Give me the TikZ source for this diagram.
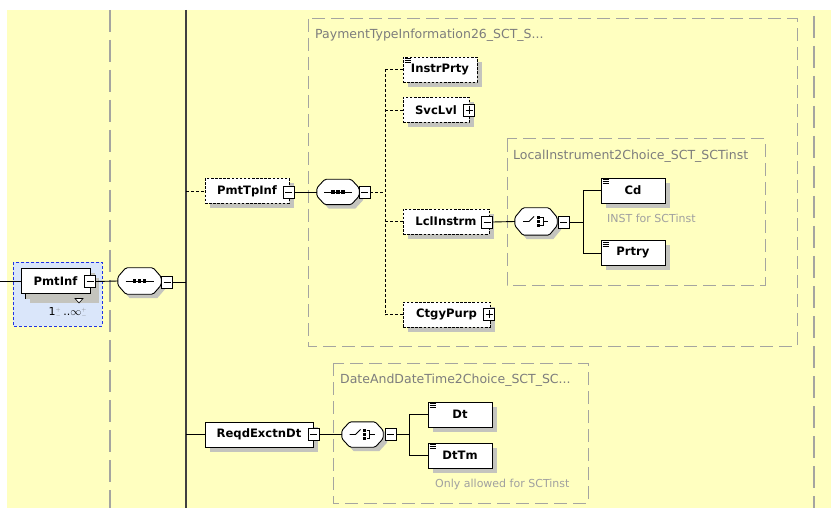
\documentclass[tikz,border=0pt]{standalone}
\usepackage{fontspec}
\setmainfont{DejaVu Sans}
\usetikzlibrary{shadows}

\definecolor{bgyellow}{RGB}{255,255,192}
\definecolor{shadowgray}{RGB}{196,196,190}
\definecolor{boxgray}{RGB}{165,165,160}
\definecolor{titlegray}{RGB}{125,125,125}
\definecolor{notegray}{RGB}{160,160,160}
\definecolor{blueback}{RGB}{218,230,250}
\definecolor{bluedash}{RGB}{30,50,230}

\newcommand\spinpm{\textcolor{gray}{${}^{\scriptscriptstyle+}_{\scriptscriptstyle-}$}}

% small "simple content" mark in the corner of a box
\newcommand\simpleicon[1]{%
  \foreach \dy in {2,4,6}
    \draw[line width=0.7pt] ([shift={(2pt,-\dy pt)}]#1.north west) -- ++(6pt,0pt);}

% outline of a compositor box (cut corners)
\newcommand\octopath[1]{([yshift=4pt]#1.west) -- ([xshift=8pt]#1.north west)
  -- ([xshift=-8pt]#1.north east) -- ([yshift=4pt]#1.east) -- ([yshift=-4pt]#1.east)
  -- ([xshift=-8pt]#1.south east) -- ([xshift=8pt]#1.south west) -- ([yshift=-4pt]#1.west) -- cycle}
\newcommand\octobox[1]{%
  \fill[shadowgray, transform canvas={shift={(4pt,-4pt)}}] \octopath{#1};
  \filldraw[fill=white, line width=0.9pt, rounded corners=1.5pt] \octopath{#1};}

% sequence mark: a line with three dots
\newcommand\seqicon[1]{%
  \draw[line width=0.8pt] ([xshift=-14pt]#1.center) -- ([xshift=14pt]#1.center);
  \foreach \dx in {-5,0,5}
    \fill ([shift={(\dx pt-1.8pt,-1.8pt)}]#1.center) rectangle ++(3.6pt,3.6pt);}

% choice mark: a switch and three stacked dots
\newcommand\choiceicon[1]{%
  \begin{scope}[shift={(#1.center)}, line width=0.8pt]
    \draw (-13,0) -- (-7,0) -- (-2,-5);
    \foreach \yy in {-4,0,4}
      \fill (0.5,\yy-1.5) rectangle ++(3,3);
    \draw (4,-4) -- (7,-4) -- (7,4) -- (4,4) (7,0) -- (12,0);
  \end{scope}}

\tikzset{
  elem/.style={draw, fill=white, line width=0.9pt, minimum height=25pt, inner sep=0pt,
    font=\fontsize{11.6}{13}\selectfont\bfseries,
    drop shadow={shadow xshift=5pt, shadow yshift=-5pt, fill=shadowgray, opacity=1}},
  optelem/.style={elem, dash pattern=on 2.5pt off 1.6pt},
  seqbox/.style={rectangle, minimum height=26pt, inner sep=0pt},
  minusbox/.style={draw, fill=white, line width=0.8pt, minimum width=11pt, minimum height=12pt,
    inner sep=0pt, path picture={\draw[line width=0.8pt]
      ([xshift=2pt]path picture bounding box.west) -- ([xshift=-2pt]path picture bounding box.east);}},
  plusbox/.style={minusbox, path picture={\draw[line width=0.8pt]
      ([xshift=2pt]path picture bounding box.west) -- ([xshift=-2pt]path picture bounding box.east)
      ([yshift=-2pt]path picture bounding box.north) -- ([yshift=2pt]path picture bounding box.south);}},
  conn/.style={line width=0.9pt},
  optline/.style={dash pattern=on 3pt off 2pt},
  grpbox/.style={boxgray, line width=1pt, dash pattern=on 13pt off 6pt},
  outerline/.style={boxgray, line width=1.2pt, dash pattern=on 22pt off 8pt},
  grptitle/.style={anchor=west, inner sep=0pt, text=titlegray, font=\fontsize{12.5}{14}\selectfont},
  note/.style={anchor=west, inner sep=0pt, text=notegray, font=\fontsize{11}{13}\selectfont}
}

\begin{document}
\begin{tikzpicture}[x=1pt,y=-1pt]
  \useasboundingbox (0,0) rectangle (831,508);
  \fill[bgyellow] (7,10) rectangle (831,508);

  % frame lines
  \draw[outerline] (110,10) -- (110,508);
  \draw[outerline] (814,16) -- (814,508);
  \coordinate (top) at (186,10);
  \coordinate (bottom) at (186,508);
  \draw[line width=1.3pt, black!75] (top) -- (bottom);

  % complex type groups
  \draw[grpbox] (308,19) rectangle (797,346);
  \node[grptitle] (ptititle) at (315,35) {PaymentTypeInformation26\_SCT\_S...};
  \draw[grpbox] (507,139) rectangle (765,285);
  \node[grptitle] (lititle) at (513,156) {LocalInstrument2Choice\_SCT\_SCTinst};
  \draw[grpbox] (333,363) rectangle (588,503);
  \node[grptitle] (dttitle) at (340,380) {DateAndDateTime2Choice\_SCT\_SC...};

  % PmtInf
  \draw[bluedash, fill=blueback, line width=0.9pt, dash pattern=on 3pt off 2pt] (13,262) rectangle (102,326);
  \node[elem, minimum width=69pt] (pmtinfback) at (59.5,285.5) {};
  \node[elem, minimum width=69pt] (pmtinf) at (55.5,281) {PmtInf};
  \draw[fill=white, line width=0.6pt] (75,298.5) -- (83,298.5) -- (79,303) -- cycle;
  \node[minusbox] (pmtinfc) at (90,281.5) {};
  \node[inner sep=0pt, font=\fontsize{11}{13}\selectfont] (pmtinfmult) at (68,313) {1\spinpm\,..$\infty$\spinpm};

  \node[seqbox, minimum width=43pt] (seq1) at (139.5,281) {};
  \octobox{seq1}
  \seqicon{seq1}
  \node[minusbox] (seq1c) at (167,282) {};

  % PmtTpInf
  \node[optelem, minimum width=84pt] (pmttpinf) at (247,191) {PmtTpInf};
  \node[minusbox] (pmttpinfc) at (288.5,192) {};
  \node[seqbox, minimum width=42pt, minimum height=25pt] (seq2) at (338,192) {};
  \octobox{seq2}
  \seqicon{seq2}
  \node[minusbox] (seq2c) at (364.5,192) {};

  \node[optelem, minimum width=74pt] (instrprty) at (440,69.5) {InstrPrty};
  \simpleicon{instrprty}
  \node[optelem, minimum width=66pt] (svclvl) at (436,110) {SvcLvl};
  \node[plusbox] (svclvlc) at (469,110) {};
  \node[optelem, minimum width=86pt] (lclinstrm) at (446,221.5) {LclInstrm};
  \node[minusbox] (lclinstrmc) at (487,222) {};
  \node[optelem, minimum width=87pt] (ctgypurp) at (446.5,314.5) {CtgyPurp};
  \node[plusbox] (ctgypurpc) at (489,314) {};

  \node[seqbox, minimum width=42pt, minimum height=27pt] (ch1) at (536,221.5) {};
  \octobox{ch1}
  \choiceicon{ch1}
  \node[minusbox] (ch1c) at (563.5,222) {};
  \node[elem, minimum width=64pt] (cd) at (633,190.5) {Cd};
  \simpleicon{cd}
  \node[elem, minimum width=64pt] (prtry) at (633,253) {Prtry};
  \simpleicon{prtry}
  \node[note] (cdnote) at (607,218) {INST for SCTinst};

  % ReqdExctnDt
  \node[elem, minimum width=108pt] (reqd) at (259,434.5) {ReqdExctnDt};
  \node[minusbox] (reqdc) at (313.5,434.5) {};
  \node[seqbox, minimum width=41pt, minimum height=25pt] (ch2) at (362.5,434.5) {};
  \octobox{ch2}
  \choiceicon{ch2}
  \node[minusbox] (ch2c) at (390.5,434.5) {};
  \node[elem, minimum width=64pt] (dt) at (460,414.5) {Dt};
  \simpleicon{dt}
  \node[elem, minimum width=64pt] (dttm) at (460,455.5) {DtTm};
  \simpleicon{dttm}
  \node[note] (dtnote) at (435,484) {Only allowed for SCTinst};

  % connectors
  \coordinate (in) at (0,281);
  \draw[conn] (in) -- (pmtinf.west);
  \draw[conn] (pmtinfc.east) -- (seq1.west);
  \draw[conn] (seq1c.east) -- (seq1c.east -| top);
  \draw[conn, optline] (pmttpinf.west -| top) -- (pmttpinf.west);
  \draw[conn] (reqd.west -| top) -- (reqd.west);

  \coordinate (seq2trunk) at (385,0);
  \draw[conn] (pmttpinfc.east) -- (seq2.west);
  \draw[conn, optline] (seq2c.east) -- (seq2c.east -| seq2trunk);
  \draw[conn, optline] (instrprty.west -| seq2trunk) -- (ctgypurp.west -| seq2trunk);
  \foreach \n in {instrprty,svclvl,lclinstrm,ctgypurp}
    \draw[conn, optline] (\n.west -| seq2trunk) -- (\n.west);

  \coordinate (ch1trunk) at (583,0);
  \draw[conn] (lclinstrmc.east) -- (ch1.west);
  \draw[conn] (ch1c.east) -- (ch1c.east -| ch1trunk);
  \draw[conn] (cd.west) -| (ch1trunk |- prtry.west) -- (prtry.west);

  \coordinate (ch2trunk) at (409,0);
  \draw[conn] (reqdc.east) -- (ch2.west);
  \draw[conn] (ch2c.east) -- (ch2c.east -| ch2trunk);
  \draw[conn] (dt.west) -| (ch2trunk |- dttm.west) -- (dttm.west);
\end{tikzpicture}
\end{document}
